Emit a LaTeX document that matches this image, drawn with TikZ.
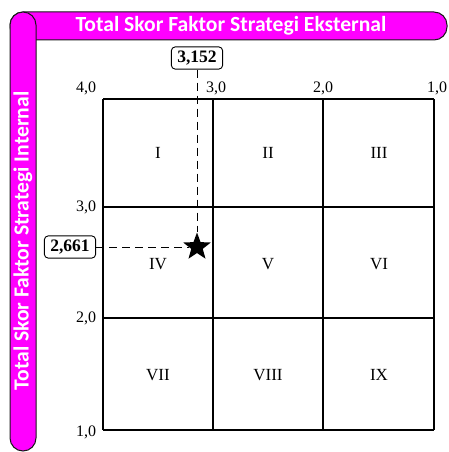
\documentclass[tikz,border=0pt]{standalone}
\usepackage{fontspec}
\setmainfont{Liberation Serif}
\newfontfamily\barfont{Carlito}
\usetikzlibrary{shapes.geometric}
\definecolor{barpink}{RGB}{255,0,255}

\begin{document}
\begin{tikzpicture}
  [x=1pt,y=-1pt,
   every node/.style={font=\fontsize{16}{18}\selectfont},
   bar/.style={draw=black!90,line width=1pt,fill=barpink,rounded corners=13pt},
   bartext/.style={text=white,font=\barfont\bfseries\fontsize{21.6}{24}\selectfont},
   valbox/.style={draw,rounded corners=4pt,line width=0.9pt,inner xsep=6pt,inner ysep=4pt,
     font=\bfseries\fontsize{17.5}{20}\selectfont},
   cell/.style={font=\fontsize{17}{19}\selectfont},
   guide/.style={line width=0.9pt,dash pattern=on 8pt off 5pt}]
  \useasboundingbox (0,0) rectangle (448,452);
  % side bars
  \draw[bar] (10,12) rectangle (447,40);
  \node[bartext] (ext) at (231,26) {Total Skor Faktor Strategi Eksternal};
  \draw[bar] (10,12) rectangle (36,451);
  \node[bartext,rotate=90] (int) at (23,241) {Total Skor Faktor Strategi Internal};
  % matrix
  \foreach \x in {103,213,323,434}
    \draw[line width=1.1pt] (\x,99) -- (\x,430);
  \foreach \y in {99,207,318,430}
    \draw[line width=1.1pt] (103,\y) -- (434,\y);
  % scale
  \node (t4) at (86,88) {4,0};
  \node (t3) at (216,88) {3,0};
  \node (t2) at (323,88) {2,0};
  \node (t1) at (437,88) {1,0};
  \node (l3) at (86,207) {3,0};
  \node (l2) at (86,318) {2,0};
  \node (l1) at (86,432) {1,0};
  % cells
  \node[cell] (c1) at (158,153) {I};
  \node[cell] (c2) at (268,153) {II};
  \node[cell] (c3) at (379,153) {III};
  \node[cell] (c4) at (158,264) {IV};
  \node[cell] (c5) at (268,264) {V};
  \node[cell] (c6) at (379,264) {VI};
  \node[cell] (c7) at (158,375) {VII};
  \node[cell] (c8) at (268,375) {VIII};
  \node[cell] (c9) at (379,375) {IX};
  % position
  \node[star,star points=5,star point ratio=2.4,fill,minimum size=29pt,inner sep=0pt] (pos) at (197,247) {};
  \node[valbox] (vx) at (197,58) {3,152};
  \node[valbox] (vy) at (70,247) {2,661};
  \draw[guide] (vx) -- (pos);
  \draw[guide] (vy) -- (pos);
\end{tikzpicture}
\end{document}
